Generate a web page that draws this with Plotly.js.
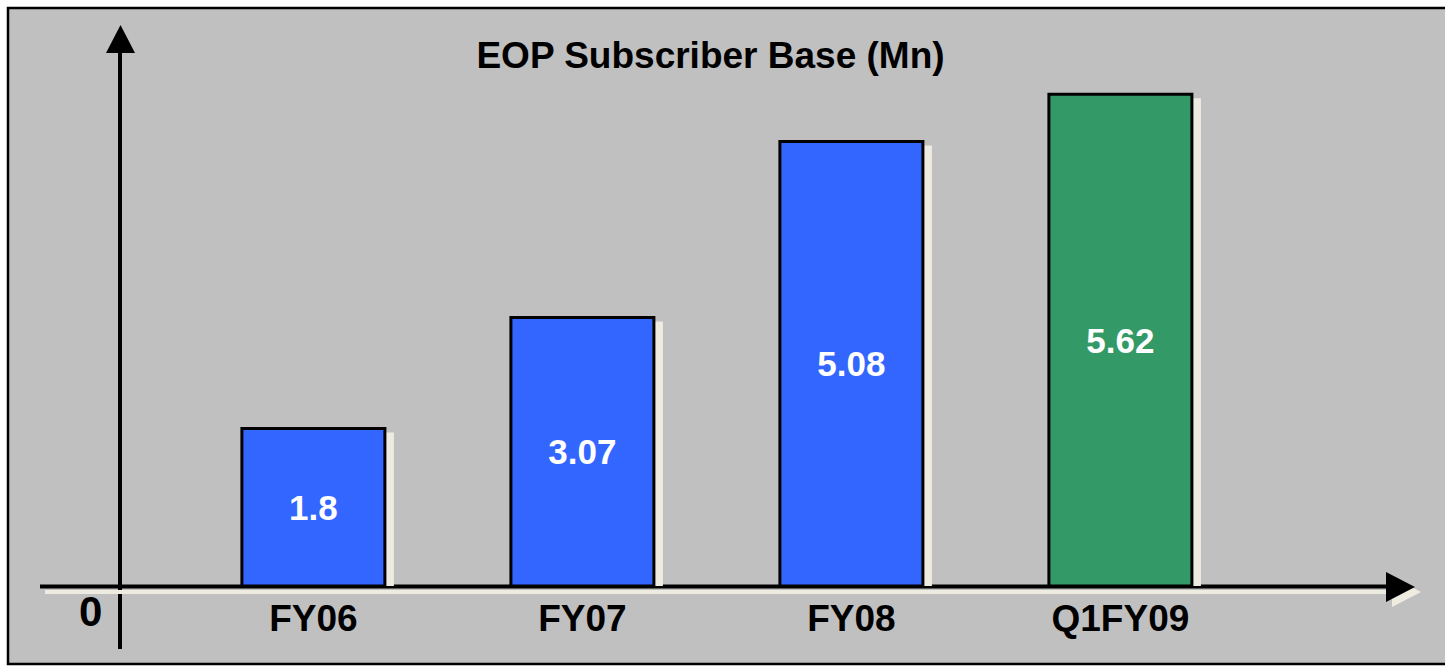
<!DOCTYPE html>
<html>
<head>
<meta charset="utf-8">
<script src="https://cdn.plot.ly/plotly-3.0.1.min.js"></script>
<style>
  html, body { margin: 0; padding: 0; background: #ffffff; overflow: hidden; }
  #chart { width: 1445px; height: 666px; }
</style>
</head>
<body>
<div id="chart"></div>
<script>
// ---- data ----
const categories = ['FY06', 'FY07', 'FY08', 'Q1FY09'];
const subscribers = [1.8, 3.07, 5.08, 5.62];
const barColors = ['#3366ff', '#3366ff', '#3366ff', '#339966'];
const chartTitle = 'EOP Subscriber Base (Mn)';
const zeroLabel = '0';

// ---- geometry helpers (decoration only) ----
const W = 1445, H = 666, BOTTOM = 80;
const PLOT_H = H - BOTTOM;           // plot area height in px
const PX_PER_UNIT = 87.5;            // y scale
const PX_PER_CAT = 269;              // x scale
const FIRST_CENTER = 313.4;
const r0 = -FIRST_CENTER / PX_PER_CAT;
const r1 = r0 + W / PX_PER_CAT;
const px = x => x / W;
const py = y => (PLOT_H - y) / PLOT_H;
const CREAM = '#eeece1';
const FONT = 'Arial, "Liberation Sans", sans-serif';

function path(points, close) {
  return 'M' + points.map(p => px(p[0]).toFixed(5) + ',' + py(p[1]).toFixed(5)).join(' L') + (close === false ? '' : ' Z');
}

const shapes = [
  // gray panel (no right border: it runs off the picture)
  {type: 'rect', xref: 'paper', yref: 'paper', layer: 'below',
   x0: px(8), x1: px(W), y0: py(8), y1: py(664),
   fillcolor: '#c0c0c0', line: {width: 0}},
  // panel border: top, left, bottom
  {type: 'path', xref: 'paper', yref: 'paper', layer: 'below',
   path: path([[W, 8], [8, 8], [8, 664], [W, 664]], false),
   fillcolor: 'rgba(0,0,0,0)', line: {color: '#000000', width: 2.5}},
  // y axis line
  {type: 'line', xref: 'paper', yref: 'paper', layer: 'below',
   x0: px(120), x1: px(120), y0: py(50), y1: py(649),
   line: {color: '#000000', width: 4}},
  // y axis arrow head
  {type: 'path', xref: 'paper', yref: 'paper', layer: 'below',
   path: path([[106, 53], [135, 53], [120.5, 25]]),
   fillcolor: '#000000', line: {width: 0}},
  // x axis shadow
  {type: 'line', xref: 'paper', yref: 'paper', layer: 'below',
   x0: px(45), x1: px(1394), y0: py(592), y1: py(592),
   line: {color: CREAM, width: 4}},
  {type: 'path', xref: 'paper', yref: 'paper', layer: 'below',
   path: path([[1392, 577], [1392, 607], [1421, 592]]),
   fillcolor: CREAM, line: {width: 0}},
  // x axis line
  {type: 'line', xref: 'paper', yref: 'paper', layer: 'below',
   x0: px(40), x1: px(1390), y0: py(586.5), y1: py(586.5),
   line: {color: '#000000', width: 4}},
  {type: 'path', xref: 'paper', yref: 'paper', layer: 'below',
   path: path([[1386, 572], [1386, 602], [1415, 587]]),
   fillcolor: '#000000', line: {width: 0}}
];

const barWidth = 143 / PX_PER_CAT;
const shadowWidth = 149 / PX_PER_CAT;

const shadowTrace = {
  type: 'bar',
  x: categories,
  y: subscribers,
  base: -4 / PX_PER_UNIT,
  width: shadowWidth,
  offset: (-74.5 + 6) / PX_PER_CAT,
  marker: {color: CREAM, line: {width: 0}},
  hoverinfo: 'skip',
  showlegend: false
};

const barTrace = {
  type: 'bar',
  x: categories,
  y: subscribers,
  width: barWidth,
  marker: {color: barColors, line: {color: '#000000', width: 3}},
  texttemplate: '%{y}',
  textposition: 'inside',
  insidetextanchor: 'middle',
  textangle: 0,
  constraintext: 'none',
  textfont: {family: FONT, size: 35, color: '#ffffff', weight: 700},
  hoverinfo: 'skip',
  showlegend: false
};

const layout = {
  width: W,
  height: H,
  margin: {l: 0, r: 0, t: 0, b: BOTTOM, pad: 0},
  paper_bgcolor: '#ffffff',
  plot_bgcolor: 'rgba(0,0,0,0)',
  barmode: 'overlay',
  showlegend: false,
  font: {family: FONT, color: '#000000'},
  title: {
    text: chartTitle,
    x: 710.5 / W, xref: 'paper', xanchor: 'center',
    y: 1 - 55 / H, yref: 'container', yanchor: 'middle',
    font: {size: 37, color: '#000000', weight: 700, family: FONT}
  },
  xaxis: {
    type: 'category',
    range: [r0, r1],
    showgrid: false, zeroline: false, showline: false,
    ticks: '',
    ticklabelstandoff: 7,
    tickfont: {size: 37, color: '#000000', weight: 700, family: FONT},
    fixedrange: true
  },
  yaxis: {
    range: [0, PLOT_H / PX_PER_UNIT],
    showgrid: false, zeroline: false, showline: false,
    showticklabels: false, ticks: '',
    fixedrange: true
  },
  shapes: shapes,
  annotations: [
    {text: zeroLabel, xref: 'paper', yref: 'paper',
     x: px(90), y: py(611), xanchor: 'center', yanchor: 'middle',
     showarrow: false,
     font: {size: 42, color: '#000000', weight: 700, family: FONT}}
  ]
};

Plotly.newPlot('chart', [shadowTrace, barTrace], layout, {displayModeBar: false, staticPlot: true});
</script>
</body>
</html>
